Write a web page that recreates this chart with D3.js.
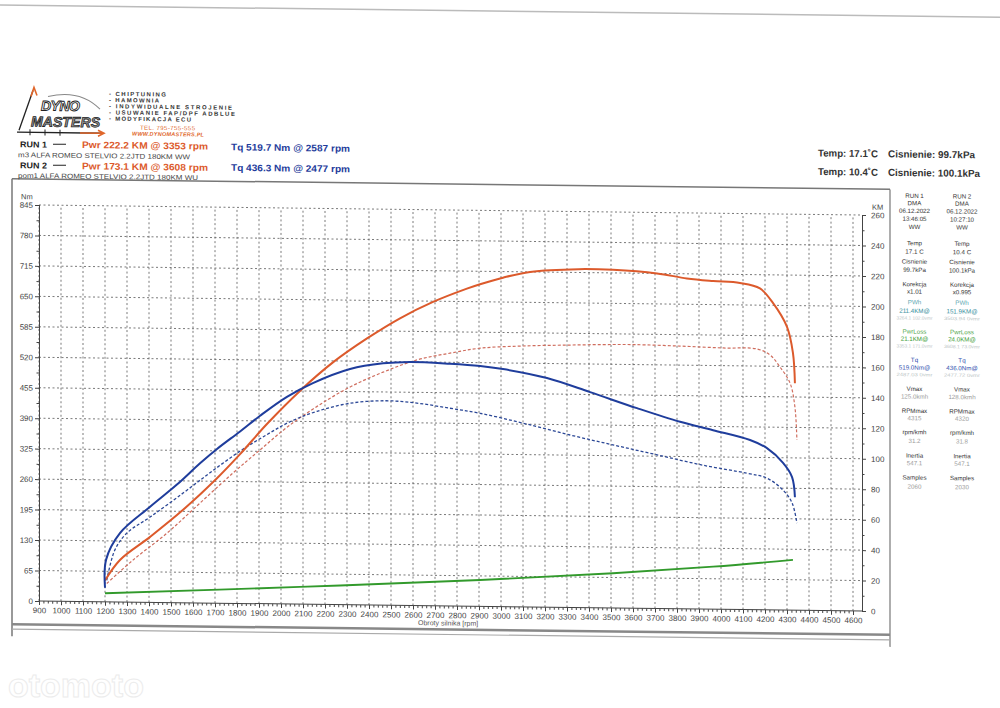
<!DOCTYPE html>
<html>
<head>
<meta charset="utf-8">
<script src="https://cdn.jsdelivr.net/npm/d3@7"></script>
<style>
  body { margin: 0; background: #fff; }
  svg { display: block; font-family: 'Liberation Sans', Arial, sans-serif; }
</style>
</head>
<body>
<script>
// ---- data ----
var rpmTicks = d3.range(900, 4601, 100);
var nmTicks = d3.range(0, 846, 65);
var kmTicks = d3.range(0, 261, 20);

// [rpm, Nm]
var run1Torque = [[1200, 30], [1205, 90], [1268, 147], [1405, 204], [1527, 252], [1632, 298], [1709, 329],
  [1814, 367], [1905, 401], [2027, 442], [2145, 472], [2314, 503], [2464, 516], [2587, 519.7], [2768, 517],
  [2905, 513], [3009, 507], [3209, 489], [3405, 460], [3618, 427], [3814, 399], [3964, 382], [4132, 362],
  [4209, 345], [4282, 314], [4323, 284], [4336, 241]];
var run2Torque = [[1208, 46], [1245, 111], [1299, 147], [1405, 182], [1555, 234], [1677, 278], [1814, 325],
  [1936, 361], [2041, 389], [2164, 412], [2314, 430], [2477, 436.3], [2618, 432], [2768, 422], [2905, 412],
  [3100, 392], [3314, 368], [3509, 348], [3709, 328], [3918, 307], [4118, 291], [4209, 281], [4282, 256],
  [4323, 229], [4345, 186]];
// [rpm, KM]
var run1Power = [[1200, 14], [1268, 27.6], [1405, 43], [1555, 61], [1709, 82], [1814, 98], [1936, 118],
  [2086, 140], [2236, 159], [2391, 175], [2541, 188.5], [2691, 199.5], [2845, 208.5], [2905, 211.5],
  [3009, 216], [3132, 220], [3353, 222.2], [3509, 222], [3709, 220], [3845, 217], [3964, 215.5], [4086, 214.4],
  [4177, 211], [4236, 201.6], [4300, 186], [4327, 169], [4336, 149]];
var run2Power = [[1208, 12], [1327, 27.6], [1482, 45.6], [1632, 65.6], [1782, 85.6], [1905, 101], [2027, 116],
  [2164, 130], [2314, 143], [2464, 153], [2618, 161.3], [2768, 166], [2905, 169.5], [3100, 171.3],
  [3314, 172.3], [3509, 173], [3608, 173.1], [3814, 172.5], [4009, 171.6], [4164, 171.2], [4223, 167.4],
  [4268, 159.6], [4314, 149], [4336, 133.4], [4345, 111.7]];
var lossPower = [[1200, 5.6], [2086, 11.3], [2905, 17.3], [3509, 22.8], [3964, 27.9], [4327, 33]];

var run1Info = ['RUN 1', 'DMA', '06.12.2022', '13:46:05', 'WW', 'Temp', '17.1 C', 'Cisnienie', '99.7kPa',
  'Korekcja', 'x1.01', 'PWh', '211.4KM@', '3264.1 102.0vmr', 'PwrLoss', '21.1KM@', '3353.1 171.0vmr', 'Tq',
  '519.0Nm@', '2487.03 0vmr', 'Vmax', '125.0kmh', 'RPMmax', '4315', 'rpm/kmh', '31.2', 'Inertia', '547.1',
  'Samples', '2060'];
var run2Info = ['RUN 2', 'DMA', '06.12.2022', '10:27:10', 'WW', 'Temp', '10.4 C', 'Cisnienie', '100.1kPa',
  'Korekcja', 'x0.995', 'PWh', '151.9KM@', '3503.94 0vmr', 'PwrLoss', '24.0KM@', '3608.1 73.0vmr', 'Tq',
  '436.0Nm@', '2477.72 0vmr', 'Vmax', '128.0kmh', 'RPMmax', '4320', 'rpm/kmh', '31.8', 'Inertia', '547.1',
  'Samples', '2030'];

// ---- layout ----
var svg = d3.select('body').append('svg').attr('width', 1000).attr('height', 708);
// the scan is slightly skewed: right side sits lower
var root = svg.append('g').attr('transform', 'skewY(0.7)');

var x = d3.scaleLinear().domain([900, 4600]).range([39, 853]);
var yNm = d3.scaleLinear().domain([0, 845]).range([600.5, 204.5]);
var yKm = d3.scaleLinear().domain([0, 260]).range([600.5, 204.5]);
var rightX = 862;

var red = '#dc5a2c';
var red2 = '#cf6d5e';
var blue = '#1f3d9c';
var blue2 = '#2b4796';
var green = '#329a2c';

// page edges / frame
root.append('line').attr('x1', 0).attr('x2', 1000).attr('y1', 5).attr('y2', 5)
  .attr('stroke', '#bbb').attr('stroke-width', 1.5);
var frame = root.append('g').attr('stroke', '#777').attr('fill', 'none');
frame.append('line').attr('x1', 12).attr('x2', 890).attr('y1', 178.5).attr('y2', 178.5).attr('stroke-width', 1.5);
frame.append('line').attr('x1', 12).attr('x2', 12).attr('y1', 178.5).attr('y2', 636).attr('stroke-width', 1.5);
frame.append('line').attr('x1', 890).attr('x2', 890).attr('y1', 178.5).attr('y2', 636).attr('stroke-width', 1.2);
frame.append('line').attr('x1', 12).attr('x2', 890).attr('y1', 624).attr('y2', 624).attr('stroke-width', 2.5)
  .attr('stroke', '#888');
frame.append('line').attr('x1', 12).attr('x2', 890).attr('y1', 629).attr('y2', 629).attr('stroke-width', 1.2)
  .attr('stroke', '#aaa');

// ---- logo ----
var logo = root.append('g');
logo.append('path').attr('d', 'M19,130 L33,90').attr('stroke', '#222').attr('stroke-width', 1.3).attr('fill', 'none');
logo.append('path').attr('d', 'M31,96 L34,87 L37,95').attr('stroke', '#e0662a').attr('stroke-width', 1.6).attr('fill', 'none');
logo.append('path').attr('d', 'M17,132 L103,132').attr('stroke', '#222').attr('stroke-width', 1.3);
logo.append('path').attr('d', 'M80,132 L103,132 M98,129 L104,132 L98,135').attr('stroke', '#e0662a')
  .attr('stroke-width', 1.6).attr('fill', 'none');
[30, 45, 60].forEach(function (t) {
  logo.append('line').attr('x1', t).attr('x2', t).attr('y1', 129).attr('y2', 135).attr('stroke', '#222');
});
logo.append('path').attr('d', 'M48,96 Q80,88 100,108').attr('stroke', '#888').attr('fill', 'none').attr('stroke-width', 1);
logo.append('text').attr('x', 41).attr('y', 110).text('DYNO')
  .attr('font-size', 14).attr('font-style', 'italic').attr('font-weight', 'bold')
  .attr('fill', '#fff').attr('stroke', '#222').attr('stroke-width', 0.9).attr('textLength', 39);
logo.append('text').attr('x', 31).attr('y', 126).text('MASTERS')
  .attr('font-size', 14).attr('font-style', 'italic').attr('font-weight', 'bold')
  .attr('fill', '#9a9a9a').attr('stroke', '#222').attr('stroke-width', 0.8).attr('textLength', 69);

var bullets = ['- CHIPTUNING', '- HAMOWNIA', '- INDYWIDUALNE STROJENIE', '- USUWANIE FAP/DPF ADBLUE', '- MODYFIKACJA ECU'];
var bulletW = [57, 50, 123, 126, 82];
logo.selectAll('.bullet').data(bullets).enter().append('text')
  .attr('x', 109)
  .attr('y', function (d, i) { return 94.5 + i * 6.2; })
  .attr('font-size', 6).attr('font-weight', 'bold').attr('fill', '#333')
  .attr('textLength', function (d, i) { return bulletW[i]; })
  .text(function (d) { return d; });
logo.append('text').attr('x', 140).attr('y', 128).text('TEL. 795-755-555')
  .attr('font-size', 6).attr('fill', '#e0662a').attr('textLength', 55);
logo.append('text').attr('x', 132).attr('y', 134).text('WWW.DYNOMASTERS.PL')
  .attr('font-size', 5.5).attr('font-style', 'italic').attr('font-weight', 'bold')
  .attr('fill', '#e0662a').attr('textLength', 72);

// ---- run header ----
var head = root.append('g');
function headText(xp, yp, txt, size, color, len, weight) {
  head.append('text').attr('x', xp).attr('y', yp).text(txt)
    .attr('font-size', size).attr('fill', color)
    .attr('font-weight', weight || 'bold')
    .attr('textLength', len).attr('lengthAdjust', 'spacingAndGlyphs');
}
headText(20, 147, 'RUN 1', 8.5, '#222', 27);
head.append('line').attr('x1', 53).attr('x2', 66).attr('y1', 143.5).attr('y2', 143.5).attr('stroke', '#222');
headText(82, 147, 'Pwr  222.2 KM @ 3353 rpm', 9.5, red, 126);
headText(231, 147.5, 'Tq 519.7 Nm @ 2587 rpm', 9.5, blue, 119);
headText(18, 157, 'm3 ALFA ROMEO STELVIO 2.2JTD 180KM WW', 7, '#444', 172, 'normal');
headText(20, 168, 'RUN 2', 8.5, '#222', 27);
head.append('line').attr('x1', 53).attr('x2', 66).attr('y1', 164.5).attr('y2', 164.5).attr('stroke', '#222');
headText(82, 168.3, 'Pwr  173.1 KM @ 3608 rpm', 9.5, red, 126);
headText(231, 168, 'Tq 436.3 Nm @ 2477 rpm', 9.5, blue, 119);
headText(18, 177.7, 'pom1 ALFA ROMEO STELVIO 2.2JTD 180KM WU', 7, '#444', 180, 'normal');
headText(818, 146.5, 'Temp: 17.1\u02DAC', 10, '#333', 60);
headText(888, 146.5, 'Cisnienie: 99.7kPa', 10, '#333', 87);
headText(818, 165, 'Temp: 10.4\u02DAC', 10, '#333', 60);
headText(888, 165, 'Cisnienie: 100.1kPa', 10, '#333', 92);

// ---- grid ----
var grid = root.append('g').attr('stroke', '#6a6a6a').attr('stroke-width', 0.9).attr('stroke-dasharray', '2,2.5');
grid.selectAll('.vg').data(rpmTicks).enter().append('line')
  .attr('x1', function (d) { return x(d); })
  .attr('x2', function (d) { return x(d); })
  .attr('y1', yNm(0)).attr('y2', yNm(845));
grid.selectAll('.hg').data(nmTicks.slice(1)).enter().append('line')
  .attr('x1', x(900)).attr('x2', rightX)
  .attr('y1', function (d) { return yNm(d); })
  .attr('y2', function (d) { return yNm(d); });

// ---- axes ----
function styleAxis(g) {
  g.selectAll('path, line').attr('stroke', '#444');
  g.selectAll('text').attr('fill', '#444').attr('font-size', 8).attr('font-family', 'Liberation Sans, Arial, sans-serif');
}
var minorNm = nmTicks.slice(0, -1).map(function (d) { return d + 32.5; });
root.append('g').attr('transform', 'translate(' + x(900) + ',0)')
  .call(d3.axisLeft(yNm).tickValues(nmTicks).tickSize(4).tickPadding(2).tickFormat(d3.format('d')))
  .call(styleAxis);
root.append('g').attr('transform', 'translate(' + x(900) + ',0)')
  .call(d3.axisLeft(yNm).tickValues(minorNm).tickSize(2.5).tickFormat(''))
  .call(styleAxis).select('.domain').remove();
root.append('text').attr('x', 21).attr('y', 199).text('Nm').attr('font-size', 7.5).attr('fill', '#444');

var minorRpm = d3.range(900, 4601, 20).filter(function (d) { return d % 100 !== 0; });
root.append('g').attr('transform', 'translate(0,' + yNm(0) + ')')
  .call(d3.axisBottom(x).tickValues(rpmTicks).tickSize(4).tickPadding(2.5).tickFormat(d3.format('d')))
  .call(styleAxis)
  .select('.domain').attr('d', 'M' + x(900) + ',0H' + rightX);
root.append('g').attr('transform', 'translate(0,' + yNm(0) + ')')
  .call(d3.axisBottom(x).tickValues(minorRpm).tickSize(2.5).tickFormat(''))
  .call(styleAxis).select('.domain').remove();
root.append('text').attr('x', 418).attr('y', 620).text('Obroty silnika [rpm]')
  .attr('font-size', 7).attr('fill', '#555');

var minorKm = kmTicks.slice(0, -1).map(function (d) { return d + 10; });
root.append('g').attr('transform', 'translate(' + rightX + ',0)')
  .call(d3.axisRight(yKm).tickValues(kmTicks).tickSize(4).tickPadding(5))
  .call(styleAxis);
root.append('g').attr('transform', 'translate(' + rightX + ',0)')
  .call(d3.axisRight(yKm).tickValues(minorKm).tickSize(2.5).tickFormat(''))
  .call(styleAxis).select('.domain').remove();
root.append('text').attr('x', 872).attr('y', 199).text('KM').attr('font-size', 7.5).attr('fill', '#444');

// ---- curves ----
var torqueLine = d3.line()
  .x(function (d) { return x(d[0]); })
  .y(function (d) { return yNm(d[1]); })
  .curve(d3.curveCatmullRom.alpha(0.5));
var powerLine = d3.line()
  .x(function (d) { return x(d[0]); })
  .y(function (d) { return yKm(d[1]); })
  .curve(d3.curveCatmullRom.alpha(0.5));

var curves = root.append('g').attr('fill', 'none').attr('stroke-linejoin', 'round');
curves.append('path').attr('d', powerLine(lossPower)).attr('stroke', green).attr('stroke-width', 1.8);
curves.append('path').attr('d', powerLine(run2Power)).attr('stroke', red2).attr('stroke-width', 1.2)
  .attr('stroke-dasharray', '3,2');
curves.append('path').attr('d', torqueLine(run2Torque)).attr('stroke', blue2).attr('stroke-width', 1.3)
  .attr('stroke-dasharray', '3,2');
curves.append('path').attr('d', powerLine(run1Power)).attr('stroke', red).attr('stroke-width', 2);
curves.append('path').attr('d', torqueLine(run1Torque)).attr('stroke', blue).attr('stroke-width', 2);

// ---- info panel ----
var rowY = [196, 203.3, 211, 219, 227, 243.3, 251.7, 261.7, 270, 284.3, 291.7, 302.3, 311, 317.7, 331.7, 339,
  345.7, 360, 367.7, 374.3, 389, 396.7, 411, 418.3, 432.3, 441, 455.7, 463.3, 477.7, 486.7];
var faintRows = [13, 16, 19];
function rowColor(i) {
  if (i === 11) return '#5aa6b0';
  if (i === 12) return '#2f8c9a';
  if (faintRows.indexOf(i) >= 0) return '#bcc6c6';
  if (i === 14) return '#4fa64a';
  if (i === 15) return '#379a30';
  if (i >= 17 && i <= 18) return '#2f4fae';
  if (i === 21 || i === 23 || i === 25 || i === 27 || i === 29) return '#9a9a9a';
  return '#333';
}
var panel = root.append('g').attr('text-anchor', 'middle').attr('font-size', 6.2);
[[914.5, run1Info], [962, run2Info]].forEach(function (col) {
  panel.selectAll(null).data(col[1]).enter().append('text')
    .attr('x', col[0])
    .attr('y', function (d, i) { return rowY[i] - 11.4 + 2.2; })
    .attr('fill', function (d, i) { return rowColor(i); })
    .attr('font-size', function (d, i) { return faintRows.indexOf(i) >= 0 ? 4.8 : null; })
    .attr('textLength', function (d, i) { return faintRows.indexOf(i) >= 0 ? 36 : null; })
    .attr('lengthAdjust', 'spacingAndGlyphs')
    .text(function (d) { return d; });
});

// faint watermark at the bottom
svg.append('text').attr('x', 8).attr('y', 697).text('otomoto')
  .attr('font-size', 34).attr('font-weight', 'bold').attr('fill', 'none')
  .attr('stroke', '#ececec').attr('stroke-width', 1);
</script>
</body>
</html>
